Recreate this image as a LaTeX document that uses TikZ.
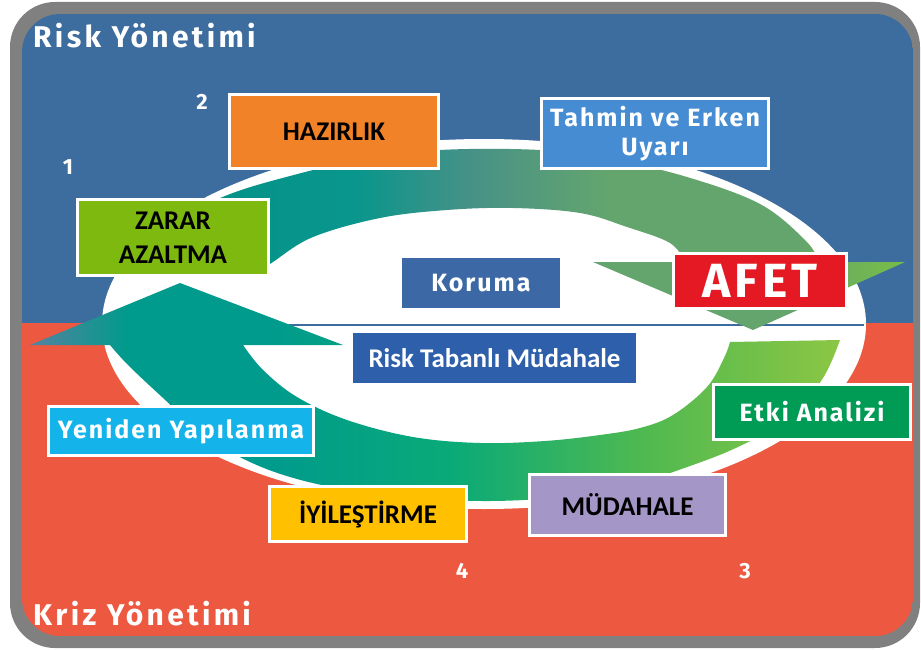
\documentclass[tikz,border=0pt]{standalone}
\usepackage{fontspec}
\setmainfont{Carlito}
\newfontfamily\dinfont[LetterSpace=8]{Fira Sans}
\newfontfamily\headfont[LetterSpace=11]{Fira Sans}
\usetikzlibrary{positioning}

\definecolor{framegray}{RGB}{128,128,128}
\definecolor{riskblue}{RGB}{61,108,158}
\definecolor{krizred}{RGB}{236,88,64}
\definecolor{hazorange}{RGB}{242,130,40}
\definecolor{tahminblue}{RGB}{70,140,210}
\definecolor{zararlime}{RGB}{125,185,15}
\definecolor{korumablue}{RGB}{60,105,165}
\definecolor{afetred}{RGB}{228,25,35}
\definecolor{tabanblue}{RGB}{45,95,170}
\definecolor{etkigreen}{RGB}{0,155,85}
\definecolor{mudlilac}{RGB}{165,150,200}
\definecolor{iyiyellow}{RGB}{255,192,0}
\definecolor{yenicyan}{RGB}{20,180,235}
% ring colours
\definecolor{topA}{RGB}{0,145,135}
\definecolor{topB}{RGB}{10,150,140}
\definecolor{topC}{RGB}{70,145,135}
\definecolor{topD}{RGB}{100,165,110}
\definecolor{topE}{RGB}{120,190,70}
\definecolor{lowA}{RGB}{85,130,160}
\definecolor{lowB}{RGB}{0,155,140}
\definecolor{lowC}{RGB}{10,170,120}
\definecolor{lowD}{RGB}{80,185,80}
\definecolor{lowE}{RGB}{140,198,68}

\pgfdeclarehorizontalshading{toparrow}{100bp}{color(0bp)=(topA); color(25bp)=(topA); color(40bp)=(topB); color(47bp)=(topC); color(56bp)=(topD); color(68bp)=(topD); color(75bp)=(topE); color(100bp)=(topE)}
\pgfdeclarehorizontalshading{lowarrow}{100bp}{color(0bp)=(lowA); color(25bp)=(lowA); color(31bp)=(lowB); color(40bp)=(lowB); color(51bp)=(lowC); color(63bp)=(lowD); color(75bp)=(lowE); color(100bp)=(lowE)}

\tikzset{
  panel/.style={draw=white, line width=3pt, inner sep=0pt, align=center,
    font=\bfseries\fontsize{27}{34}\selectfont},
  dinpanel/.style={panel, text=white, font=\dinfont\bfseries\fontsize{25}{29}\selectfont},
  flat/.style={inner sep=0pt, text=white, align=center},
  num/.style={text=white, font=\dinfont\bfseries\fontsize{22}{22}\selectfont},
  head/.style={text=white, anchor=base west, inner sep=0pt, font=\headfont\bfseries\fontsize{30}{30}\selectfont}
}

\begin{document}
\begin{tikzpicture}[x=1pt,y=-1pt]
  \useasboundingbox (0,0) rectangle (921,650);
  \fill[white] (0,0) rectangle (921,650);

  % frame and the two halves
  \fill[framegray, rounded corners=45pt] (10,2) rectangle (920,648);
  \begin{scope}
    \clip[rounded corners=38pt] (22,14) rectangle (913,636);
    \fill[riskblue] (22,14) rectangle (913,323);
    \fill[krizred] (22,323) rectangle (913,636);
  \end{scope}

  % ring
  \fill[white] (484,324) ellipse [x radius=382, y radius=185];
  \draw[riskblue, line width=2.5pt] (250,325) -- (864,325);

  \shade[shading=toparrow] (125,270) -- plot[smooth, tension=0.6] coordinates {(125,270) (160,228) (225,196) (290,176) (360,160) (440,150) (540,150) (610,159) (687,177) (760,204) (805,240) (820,262)}
    -- (905,262) -- (753,330) -- (593,262) -- (685,262)
    -- plot[smooth, tension=0.6] coordinates {(685,262) (670,243) (627,227) (580,213) (513,208) (447,210) (380,218) (313,237) (273,262) (262,270)} -- cycle;

  \shade[shading=lowarrow] (730,342) -- (840,340) -- plot[smooth, tension=0.6] coordinates {(840,340) (823,378) (790,418) (740,446) (690,466) (630,485) (560,497) (490,501) (420,498) (350,490) (297,479) (250,462) (205,436) (162,397) (128,365) (110,345)}
    -- (30,345) -- (180,283) -- (343,345) -- (243,345)
    -- plot[smooth, tension=0.6] coordinates {(243,345) (263,370) (297,397) (347,420) (413,437) (480,443) (545,441) (600,435) (640,428) (673,415) (707,387) (724,358) (730,342)} -- cycle;

  % headings and step numbers
  \node[head] (riskyon) at (33,48) {Risk Yönetimi};
  \node[head] (krizyon) at (33,625) {Kriz Yönetimi};
  \node[num] (num1) at (68,167) {1};
  \node[num] (num2) at (202,102) {2};
  \node[num] (num3) at (745,571) {3};
  \node[num] (num4) at (462,571) {4};

  % boxes
  \node[panel, fill=hazorange, minimum width=209, minimum height=74] (hazirlik) at (334,131.5) {HAZIRLIK};
  \node[dinpanel, fill=tahminblue, minimum width=227, minimum height=70] (tahmin) at (655,133.5) {Tahmin ve Erken\\Uyarı};
  \node[panel, fill=zararlime, minimum width=191, minimum height=76] (zarar) at (173,237.5) {ZARAR\\AZALTMA};
  \node[flat, fill=korumablue, minimum width=158, minimum height=50,
    font=\dinfont\bfseries\fontsize{25}{25}\selectfont] (koruma) at (481,283) {Koruma};
  \node[panel, fill=afetred, text=white, minimum width=173, minimum height=55,
    font=\dinfont\bfseries\fontsize{48}{48}\selectfont] (afet) at (760,281) {AFET};
  \node[flat, fill=tabanblue, minimum width=283, minimum height=50,
    font=\bfseries\fontsize{27}{27}\selectfont] (risktab) at (494.5,358) {Risk Tabanlı Müdahale};
  \node[dinpanel, fill=etkigreen, minimum width=197, minimum height=55] (etki) at (812,412) {Etki Analizi};
  \node[panel, fill=mudlilac, minimum width=196, minimum height=61] (mudahale) at (627.5,505) {MÜDAHALE};
  \node[panel, fill=iyiyellow, minimum width=197, minimum height=55] (iyilestirme) at (368,514) {İYİLEŞTİRME};
  \node[dinpanel, fill=yenicyan, minimum width=265, minimum height=49] (yeniden) at (181,431) {Yeniden Yapılanma};
\end{tikzpicture}
\end{document}
